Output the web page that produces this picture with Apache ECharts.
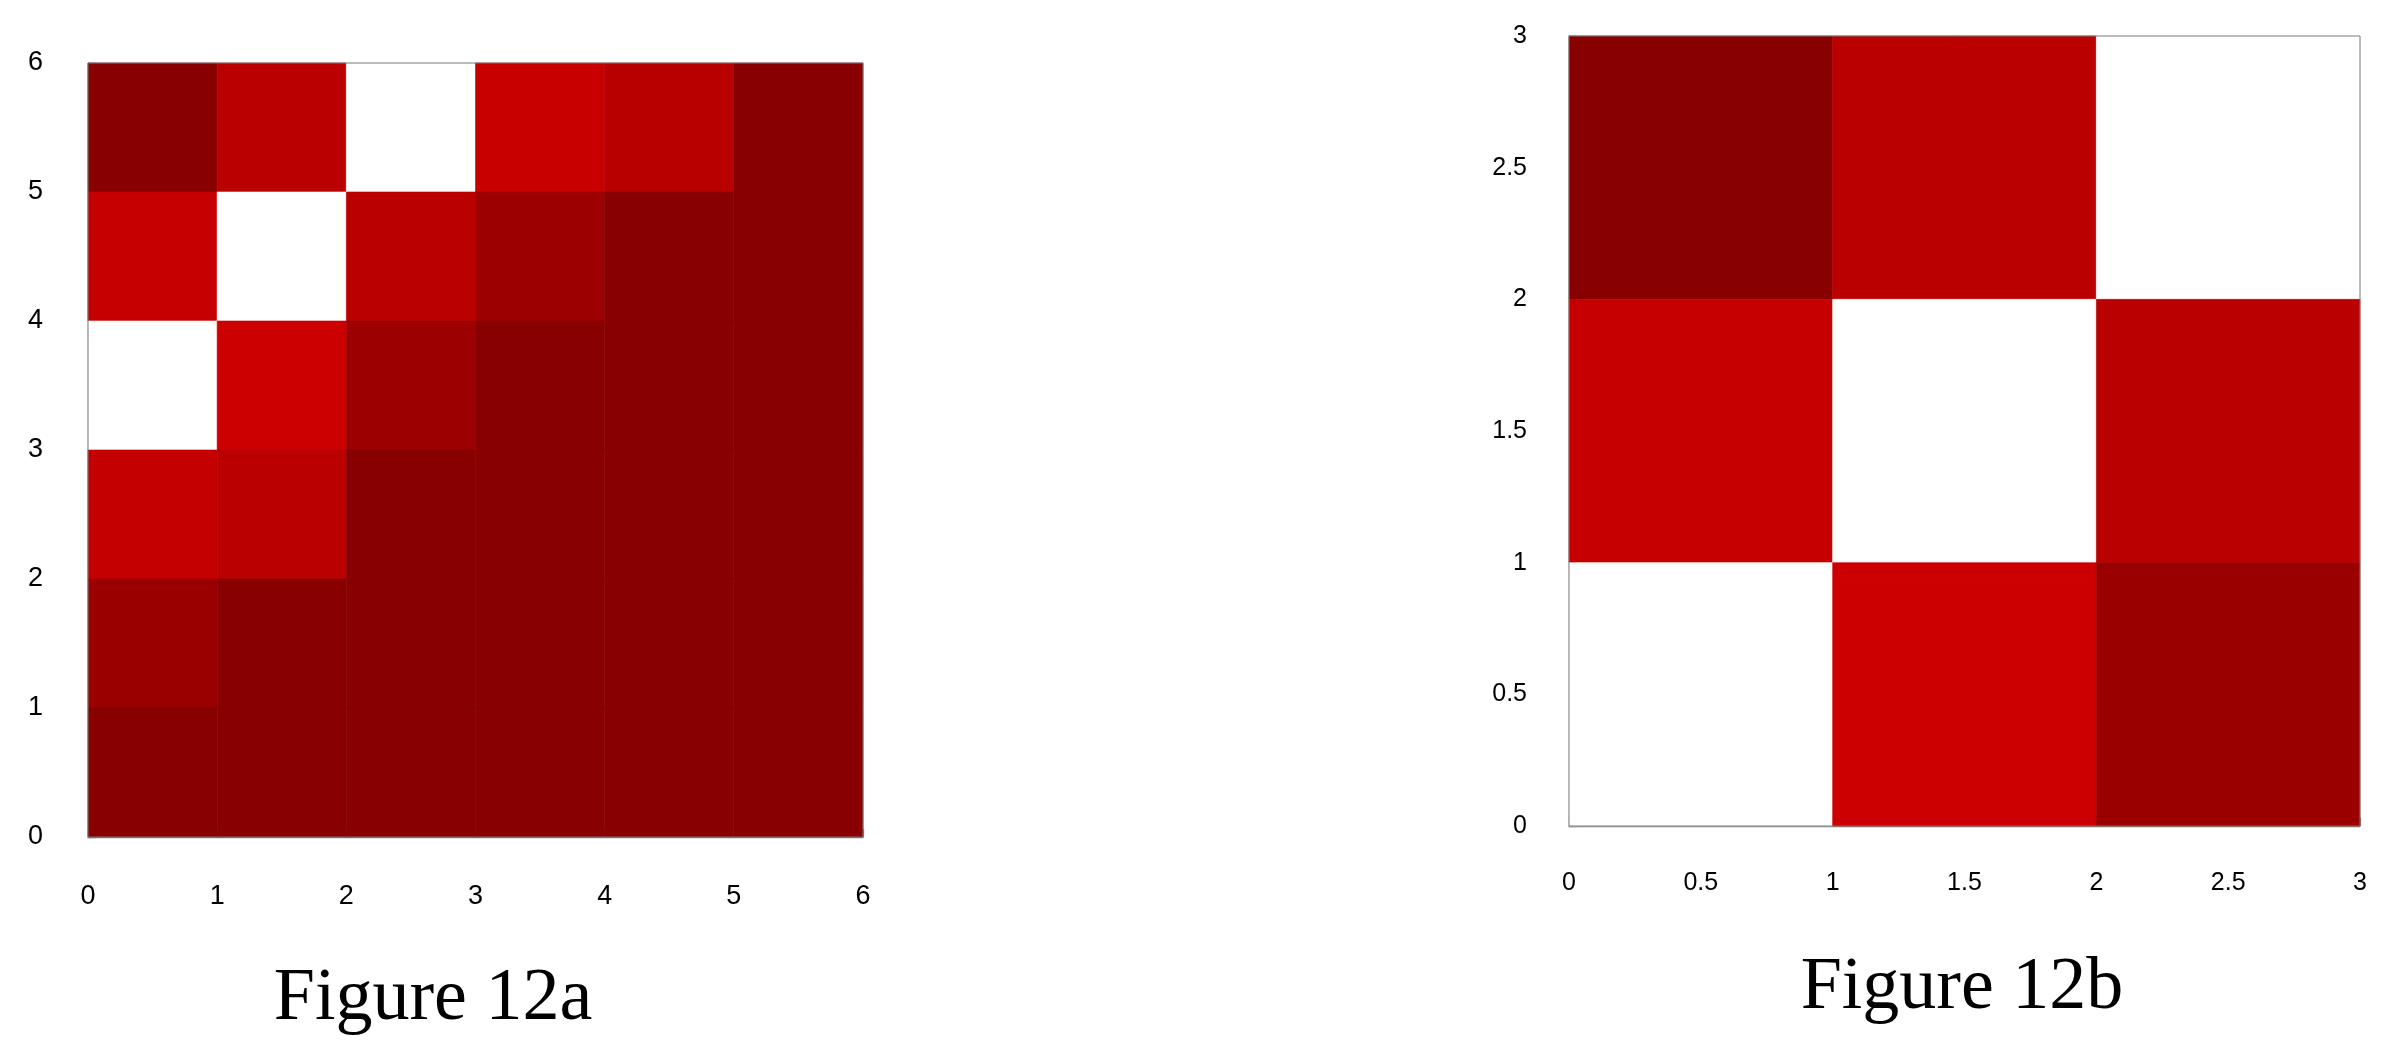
<!DOCTYPE html>
<html>
<head>
<meta charset="utf-8">
<script src="https://cdn.jsdelivr.net/npm/echarts@6/dist/echarts.min.js"></script>
<style>
html,body{margin:0;padding:0;background:#fff;}
#c{width:2399px;height:1062px;}
</style>
</head>
<body>
<div id="c"></div>
<script>
// Intensity levels: 0 = darkest red, 1 = brightest red, 2 = white (diagonal)
// Rows listed from top (highest y) to bottom
const rowsA = [
  [0, 0.75, 2, 0.94, 0.72, 0],
  [0.91, 2, 0.75, 0.29, 0, 0],
  [2, 1.0, 0.29, 0, 0, 0],
  [0.88, 0.74, 0, 0, 0, 0],
  [0.26, 0, 0, 0, 0, 0],
  [0, 0, 0, 0, 0, 0]
];
const rowsB = [
  [0, 0.75, 2],
  [0.91, 2, 0.74],
  [2, 1.0, 0.26]
];
const titleA = 'Figure 12a';
const titleB = 'Figure 12b';
const ticksA = {min: 0, max: 6, interval: 1};
const ticksB = {min: 0, max: 3, interval: 0.5};

function toCells(rows) {
  const n = rows.length, out = [];
  rows.forEach((row, r) => row.forEach((v, c) => out.push([c, n - 1 - r, v])));
  return out;
}

function renderItem(params, api) {
  const x = api.value(0), y = api.value(1);
  const p1 = api.coord([x, y + 1]);
  const p2 = api.coord([x + 1, y]);
  const col = api.visual('color');
  return {
    type: 'rect',
    shape: {x: p1[0], y: p1[1], width: p2[0] - p1[0], height: p2[1] - p1[1]},
    style: {fill: col, stroke: col, lineWidth: 0.6}
  };
}

const axisColor = '#858585';
function xAx(gi, t, off, fs, margin) {
  return {
    type: 'value', gridIndex: gi, position: 'bottom', offset: off,
    min: t.min, max: t.max, interval: t.interval,
    axisLine: {show: true, lineStyle: {color: axisColor, width: 1.3}},
    axisTick: {show: true, inside: true, length: 8, lineStyle: {color: axisColor, width: 1.3}},
    axisLabel: {color: '#000', fontFamily: 'Liberation Sans', fontSize: fs, margin: margin},
    splitLine: {show: false}
  };
}
function yAx(gi, t, off, fs) {
  return {
    type: 'value', gridIndex: gi, position: 'left', offset: off,
    min: t.min, max: t.max, interval: t.interval,
    axisLine: {show: true, lineStyle: {color: axisColor, width: 1.3}},
    axisTick: {show: true, inside: true, length: 8, lineStyle: {color: axisColor, width: 1.3}},
    axisLabel: {color: '#000', fontFamily: 'Liberation Sans', fontSize: fs, margin: 5},
    splitLine: {show: false}
  };
}

const chart = echarts.init(document.getElementById('c'), null, {renderer: 'canvas'});
chart.setOption({
  animation: false,
  backgroundColor: '#fff',
  grid: [
    {left: 88, top: 63, width: 775, height: 774, show: true, z: 10,
     backgroundColor: 'transparent', borderColor: '#7a7a7a', borderWidth: 1},
    {left: 1569, top: 36, width: 791, height: 790, show: true, z: 10,
     backgroundColor: 'transparent', borderColor: '#7a7a7a', borderWidth: 1}
  ],
  xAxis: [xAx(0, ticksA, 39, 27, 7), xAx(1, ticksB, 37, 25, 8)],
  yAxis: [yAx(0, ticksA, 40, 27), yAx(1, ticksB, 37, 25)],
  visualMap: {
    type: 'continuous', show: false, dimension: 2, seriesIndex: [0, 1],
    min: 0, max: 2,
    inRange: {color: ['#880000', '#cc0000', '#ffffff']}
  },
  series: [
    {type: 'custom', xAxisIndex: 0, yAxisIndex: 0, renderItem: renderItem,
     data: toCells(rowsA), encode: {x: 0, y: 1}},
    {type: 'custom', xAxisIndex: 1, yAxisIndex: 1, renderItem: renderItem,
     data: toCells(rowsB), encode: {x: 0, y: 1}}
  ],
  graphic: [
    {type: 'text', x: 433, y: 1000, style: {text: titleA, fill: '#000',
      font: '74px "Liberation Serif"', textAlign: 'center', textVerticalAlign: 'middle'}},
    {type: 'text', x: 1962, y: 989, style: {text: titleB, fill: '#000',
      font: '74px "Liberation Serif"', textAlign: 'center', textVerticalAlign: 'middle'}}
  ]
});
</script>
</body>
</html>
